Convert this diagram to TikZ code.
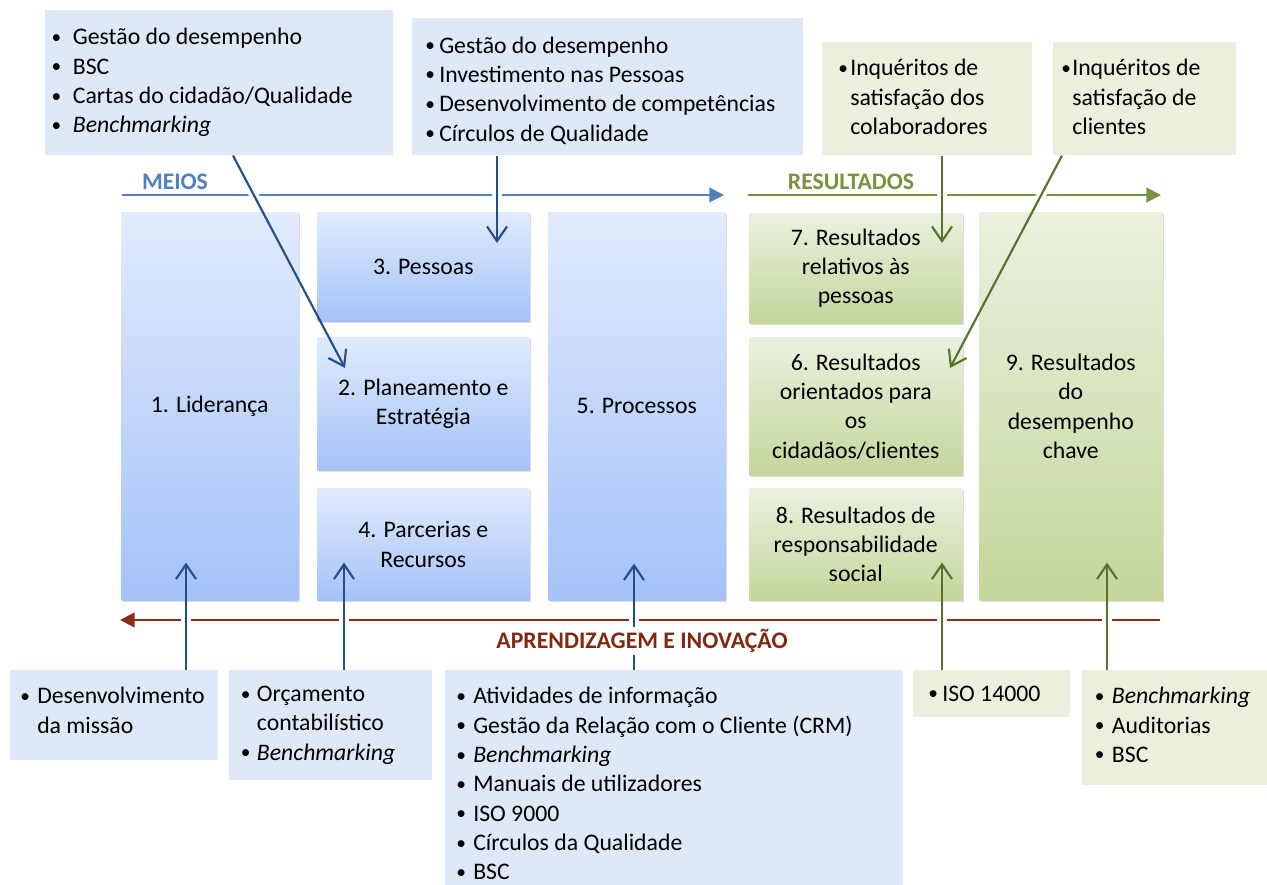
\documentclass[tikz,border=0pt]{standalone}
\usepackage{fontspec}
\setmainfont{Carlito}
\usetikzlibrary{arrows.meta,shadows,calc}
\hyphenpenalty=10000
\exhyphenpenalty=10000
\definecolor{meios}{HTML}{4F81BD}
\definecolor{resul}{HTML}{77933C}
\definecolor{aprend}{HTML}{80290F}
\definecolor{aprline}{HTML}{8A2E16}
\definecolor{arrB}{HTML}{23508A}
\definecolor{arrG}{HTML}{56722E}
\definecolor{cbB}{HTML}{DFE8F6}
\definecolor{cbG}{HTML}{EBF0DE}
\definecolor{bxBt}{HTML}{E1EBFD}
\definecolor{bxBb}{HTML}{A4C2F8}
\definecolor{bxGt}{HTML}{EBF1DF}
\definecolor{bxGb}{HTML}{C3D69B}
\newcommand\bi[1][11pt]{\makebox[#1][l]{\raisebox{1.2pt}{\fontsize{14.5pt}{14.5pt}\selectfont •}}}
\newcommand\hi[1][11pt]{\hspace*{#1}}
\newcommand\dn[1]{\rule[-#1]{0pt}{0pt}}
\newcommand\connectors{%
  \draw[ca] ($(A.south west)+(188,0)$) -- ($(b2.north west)+(28,31)$);
  \draw[ca] ($(B.south west)+(85,0)$) -- ($(b3.north west)+(180,31)$);
  \draw[cg] ($(C.south west)+(120,0)$) -- ($(b7.north west)+(193,30)$);
  \draw[cg] ($(D.south west)+(9,0)$) -- ($(b6.north west)+(201,31)$);
  \draw[ca] ($(E.north west)+(176,0)$) -- ($(b1.south west)+(65,-38)$);
  \draw[ca] ($(F.north west)+(115,0)$) -- ($(b4.south west)+(27,-38)$);
  \draw[ca] ($(G.north west)+(189,0)$) -- ($(b5.south west)+(86,-37)$);
  \draw[cg] ($(H.north west)+(29,0)$) -- ($(b8.south west)+(193,-38)$);
  \draw[cg] ($(I.north west)+(25,0)$) -- ($(b9.south west)+(128,-38)$);
}
\begin{document}
\begin{tikzpicture}[x=0.75pt,y=-0.75pt,
  every node/.style={font=\fontsize{17.8pt}{22pt}\selectfont},
  mainbox/.style={anchor=north west, inner sep=2pt, align=center,
    drop shadow={shadow xshift=1.2pt, shadow yshift=-1.5pt, opacity=0.28}},
  bluebox/.style={mainbox, top color=bxBt, bottom color=bxBb},
  greenbox/.style={mainbox, top color=bxGt, bottom color=bxGb},
  callout/.style={anchor=north west, align=flush left, inner ysep=0pt},
  calloutB/.style={callout, fill=cbB},
  calloutG/.style={callout, fill=cbG},
  ca/.style={draw=arrB, line width=1.6pt, -{Straight Barb[length=11pt,width=15pt]}},
  cg/.style={draw=arrG, line width=1.6pt, -{Straight Barb[length=11pt,width=15pt]}},
  headlbl/.style={font=\fontsize{17.8pt}{22pt}\selectfont\bfseries},
  flow/.style={line width=1.5pt, -{Triangle[length=11pt,width=11pt]}}
]
\useasboundingbox (0,0) rectangle (1267,885);

% main boxes
\node[bluebox, minimum width=132.75pt, minimum height=291pt] (b1) at (121,212) {1. Liderança};
\node[bluebox, minimum width=159pt, minimum height=81.75pt] (b3) at (317,212) {3. Pessoas};
\node[bluebox, minimum width=159pt, minimum height=99.75pt] (b2) at (317,337) {2. Planeamento e\\Estratégia};
\node[bluebox, minimum width=159pt, minimum height=84pt] (b4) at (317,488) {4. Parcerias e\\Recursos};
\node[bluebox, minimum width=132.75pt, minimum height=291pt] (b5) at (548,212) {5. Processos};
\node[greenbox, minimum width=159.75pt, minimum height=82.5pt] (b7) at (749,213) {7. Resultados\\relativos às\\pessoas};
\node[greenbox, minimum width=159.75pt, minimum height=103.5pt] (b6) at (749,337) {6. Resultados\\orientados para\\os\\cidadãos/clientes};
\node[greenbox, minimum width=159.75pt, minimum height=84pt] (b8) at (749,488) {8. Resultados de\\responsabilidade\\social};
\node[greenbox, minimum width=137.25pt, minimum height=291pt] (b9) at (979,212) {9. Resultados\\do\\desempenho\\chave};

% callouts top
\node[calloutB, inner xsep=4.75pt, text width=251.5pt, minimum height=108.75pt] (A) at (45,10)
  {\bi[16pt]Gestão do desempenho\\\bi[16pt]BSC\\\bi[16pt]Cartas do cidadão/Qualidade\\\bi[16pt]\textit{Benchmarking}};
\node[calloutB, inner xsep=9.75pt, text width=273.75pt, minimum height=102.75pt] (B) at (412,18)
  {\rule{0pt}{17.8pt}\bi[10.5pt]Gestão do desempenho\\\bi[10.5pt]Investimento nas Pessoas\\\bi[10.5pt]Desenvolvimento de competências\\\bi[10.5pt]Círculos de Qualidade};
\node[calloutG, inner xsep=12pt, text width=133.5pt, minimum height=84.75pt] (C) at (822,42)
  {\bi[9pt]Inquéritos de\\\hi[9pt]satisfação dos\\\hi[9pt]colaboradores\dn{3pt}};
\node[calloutG, inner xsep=6pt, text width=125.25pt, minimum height=84.75pt] (D) at (1053,42)
  {\bi[8.25pt]Inquéritos de\\\hi[8.25pt]satisfação de\\\hi[8.25pt]clientes\dn{3pt}};

% callouts bottom
\node[calloutB, inner xsep=7.5pt, text width=141pt, minimum height=67.5pt] (E) at (10,670)
  {\bi[12.75pt]Desenvolvimento\\\hi[12.75pt]da missão\dn{7.5pt}};
\node[calloutB, inner xsep=8.75pt, text width=134.75pt, minimum height=82.5pt] (F) at (229,670)
  {\bi[12pt]Orçamento\\\hi[12pt]contabilístico\\\bi[12pt]\textit{Benchmarking}};
\node[calloutB, inner xsep=8.25pt, text width=327pt, minimum height=170.25pt] (G) at (445,670)
  {\bi[12.75pt]Atividades de informação\\\bi[12.75pt]Gestão da Relação com o Cliente (CRM)\\\bi[12.75pt]\textit{Benchmarking}\\\bi[12.75pt]Manuais de utilizadores\\\bi[12.75pt]ISO 9000\\\bi[12.75pt]Círculos da Qualidade\\\bi[12.75pt]BSC};
\node[calloutG, inner xsep=11.25pt, text width=95.25pt, minimum height=35.25pt] (H) at (913,670)
  {\bi[10.5pt]ISO 14000};
\node[calloutG, inner xsep=9.5pt, text width=137pt, minimum height=86.25pt] (I) at (1082,670)
  {\bi[12.75pt]\textit{Benchmarking}\\\bi[12.75pt]Auditorias\\\bi[12.75pt]BSC\dn{4.5pt}};

% flow lines
\coordinate (m1) at (122,195); \coordinate (m2) at (724,195);
\coordinate (r1) at (748,195); \coordinate (r2) at (1161,195);
\coordinate (l1) at (1160,620); \coordinate (l2) at (120,620);
\draw[flow, draw=meios, fill=meios] (m1) -- (m2);
\draw[flow, draw=resul, fill=resul] (r1) -- (r2);
\draw[flow, draw=aprline, fill=aprline, line width=1.8pt] (l1) -- (l2);
\node[headlbl, text=meios] (meiosl) at (175,182) {MEIOS};
\node[headlbl, text=resul] (resl) at (851,182) {RESULTADOS};

% gaps in the flow lines where connectors cross
\begin{scope}[ca/.style={draw=white, line width=7pt}, cg/.style={draw=white, line width=7pt}]
  \clip (0,189) rectangle (1267,201) (0,613) rectangle (1267,627);
  \connectors
\end{scope}
\connectors

\node[headlbl, text=aprend, fill=white, inner sep=2pt] (apl) at (642,641) {APRENDIZAGEM E INOVAÇÃO};
\end{tikzpicture}
\end{document}
